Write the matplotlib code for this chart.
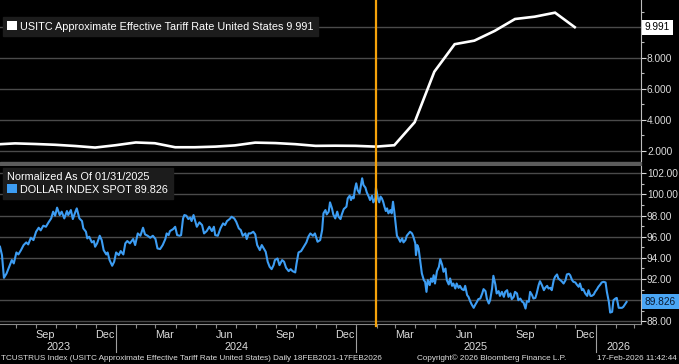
import numpy as np
import pandas as pd
import matplotlib
matplotlib.use('Agg')
import matplotlib.pyplot as plt
import matplotlib.dates as mdates
from matplotlib.patches import Patch, Rectangle

plt.rcParams['font.family'] = ['Liberation Sans', 'DejaVu Sans']

# USITC effective tariff rate, month-end readings
tariff_dates = ['2023-06-30', '2023-07-31', '2023-08-31', '2023-09-30', '2023-10-31', '2023-11-30', '2023-12-31',
                '2024-01-31', '2024-02-29', '2024-03-31', '2024-04-30', '2024-05-31', '2024-06-30',
                '2024-07-31', '2024-08-31', '2024-09-30', '2024-10-31', '2024-11-30', '2024-12-31',
                '2025-01-31', '2025-02-28', '2025-03-31', '2025-04-30', '2025-05-31', '2025-06-30',
                '2025-07-31', '2025-08-31', '2025-09-30', '2025-10-31', '2025-11-30']
tariff_vals = [2.40, 2.47, 2.43, 2.38, 2.30, 2.20, 2.35,
               2.53, 2.48, 2.22, 2.22, 2.26, 2.34,
               2.52, 2.49, 2.42, 2.31, 2.32, 2.31,
               2.26, 2.35, 3.84, 7.11, 8.89, 9.12,
               9.75, 10.52, 10.67, 10.93, 9.991]

# dollar index (normalized), days counted from 2023-07-01
dxy_start = '2023-07-01'
dxy_days = [7, 10, 13, 17, 22, 25, 28, 32, 35, 39, 43, 47, 50, 54, 58, 62, 66, 69, 73, 77,
            81, 85, 88, 91, 94, 98, 101, 105, 109, 111, 115, 118, 122, 124, 128, 132, 134, 138, 140, 143,
            147, 150, 152, 155, 159, 162, 165, 169, 171, 174, 178, 181, 184, 188, 191, 195, 198, 201, 205, 210,
            213, 217, 221, 225, 228, 232, 236, 240, 244, 247,
            251, 255, 259, 261, 264, 266, 271, 274, 277, 281, 283, 286, 288, 291, 294, 297, 299, 302, 305, 307,
            311, 315, 318, 322, 326, 330, 333, 335, 339, 343, 347, 350, 353, 357, 360, 364, 367, 371, 374, 377,
            381, 383, 386, 389, 393, 396, 399, 403, 406, 409, 412, 415, 418, 421, 424, 426, 430, 433, 437, 440,
            443, 447, 450, 453, 457, 459, 462, 466, 470, 474, 477, 480, 484, 487, 491,
            495, 498, 500, 503, 505, 508, 510, 513, 515, 518, 521, 523, 526, 528, 531, 535, 537, 540, 542, 544,
            546, 548, 550, 552, 555, 557, 559, 561, 564, 566, 569, 571, 574, 576, 579, 580, 583, 585, 587, 589,
            591, 593, 595, 597, 599, 602, 604, 606, 608, 610, 612, 615, 617, 620, 622, 625, 627, 630, 632, 635,
            637, 640, 641, 643, 645, 648, 650, 653, 655, 657, 659, 662, 664, 666, 668, 670, 673, 676, 678, 681,
            683, 686, 688, 691, 693, 696, 698, 701, 703, 706, 708, 711, 714, 716, 719, 721, 724, 726, 729, 731,
            734, 736,
            739, 742, 744, 747, 749, 752, 754, 757, 759, 762, 764, 767, 769, 772, 775, 777, 780, 782, 785, 787,
            790, 792, 795, 797, 800, 803, 805, 808, 810, 813, 815, 818, 820, 823, 825, 828, 830, 833, 836, 838,
            841, 843, 846, 848, 851, 853, 856, 858, 861, 863, 866, 869, 871, 874, 876, 879, 881, 884, 886, 889,
            891, 894, 896, 899, 902, 904, 907, 909, 912, 914, 917, 919, 922, 924, 927, 930, 932, 935, 937, 940,
            942, 945, 947, 950, 952, 955, 957, 962]
dxy_vals = [95.05, 94.26, 92.11, 92.52, 93.31, 93.79, 93.47, 94.51, 94.32, 94.73,
            95.21, 95.46, 95.27, 95.90, 95.68, 96.47, 96.85, 96.60, 97.04, 96.94,
            97.36, 97.73, 98.37, 97.99, 98.75, 98.05, 98.37, 97.73, 98.43, 98.05,
            98.52, 97.67, 98.37, 98.68, 97.73, 97.48, 96.79, 96.47, 95.84, 96.00,
            95.46, 95.59, 95.05, 95.37, 96.09, 95.68, 94.73, 94.32, 94.51, 93.79,
            93.25, 93.63, 94.51, 94.26, 94.64, 94.32, 95.37, 95.59, 95.37, 95.78,
            95.21, 96.31, 96.09, 96.85, 96.22, 96.09, 95.90, 96.09, 95.78, 94.89,
            94.83, 95.21, 95.78, 96.31, 96.15, 96.53, 96.72, 96.94, 96.15, 96.09,
            96.15, 97.73, 98.05, 97.99, 97.67, 97.80, 97.48, 98.05, 97.36, 96.94,
            97.36, 97.10, 96.31, 96.53, 96.94, 96.53, 96.94, 96.15, 96.09, 96.79,
            97.26, 97.10, 97.48, 97.67, 97.89, 97.73, 97.42, 96.79, 96.63, 96.09,
            96.31, 95.78, 96.31, 96.31, 96.47, 96.22, 95.21, 94.73, 95.21, 94.89,
            94.57, 93.63, 93.15, 92.93, 93.31, 93.79, 93.94, 93.31, 93.79, 93.63,
            93.06, 92.74, 92.93, 92.74, 92.62, 93.47, 94.51, 94.64, 95.05, 95.46,
            96.00, 96.31, 96.09, 96.31, 95.52,
            95.68, 96.63, 98.21, 98.52, 98.11, 98.37, 99.25, 98.68, 98.11, 97.73,
            98.37, 97.89, 97.67, 98.11, 98.62, 98.84, 99.63, 99.88, 99.47, 99.79,
            99.63, 100.52, 101.05, 100.42, 100.10, 100.83, 101.53, 100.89, 100.64, 100.20,
            99.79, 99.47, 99.88, 99.25, 99.63, 100.64, 99.63, 99.25, 99.79, 99.63,
            99.31, 98.84, 98.43, 98.68, 98.21, 98.52, 98.21, 99.31, 98.37, 97.26,
            96.09, 95.78, 95.52, 95.84, 95.46, 95.68, 96.09, 96.31, 96.47, 96.31,
            96.00, 95.37, 94.26, 95.21, 94.89, 93.47, 92.52, 91.89, 91.73, 90.78,
            91.89, 91.42, 92.05, 91.73, 92.36, 91.57, 92.74, 93.15, 93.88, 93.31,
            92.68, 92.99, 91.89, 91.48, 92.05, 91.35, 91.57, 91.10, 91.57, 91.16,
            91.35, 91.04, 90.94, 91.35, 90.47, 90.31, 89.84, 89.58, 89.27, 89.52,
            89.84, 90.09,
            90.15, 90.63, 91.04, 90.85, 90.15, 89.68, 89.99, 91.10, 92.30, 91.48,
            90.63, 90.85, 90.40, 90.78, 90.31, 90.78, 90.94, 90.31, 90.63, 90.09,
            90.31, 90.78, 90.63, 89.99, 90.15, 89.84, 89.77, 89.20, 89.90, 89.84,
            90.78, 90.47, 90.15, 90.21, 90.63, 91.42, 91.79, 91.42, 90.94, 91.16,
            91.35, 91.10, 91.16, 90.94, 91.89, 92.21, 92.43, 92.05, 91.89, 91.79,
            91.57, 91.89, 92.43, 92.49, 92.36, 91.89, 91.73, 91.67, 91.48, 91.26,
            91.57, 90.94, 91.04, 90.63, 90.40, 90.94, 90.40, 90.40, 90.53, 90.78,
            91.04, 91.26, 91.48, 91.67, 91.73, 91.67, 90.78, 89.84, 88.82, 88.89,
            89.99, 90.15, 90.21, 89.27, 89.27, 89.27, 89.36, 89.826]

marker_date = '2025-01-31'
x_range = ['2023-07-08', '2026-03-11']
tariff_label = 'USITC Approximate Effective Tariff Rate United States'
dxy_label = 'DOLLAR INDEX SPOT'

W, H = 679, 364
fg = '#dcdcdc'
grid_c = '#4a4a4a'
blue = '#3d9df3'
orange = '#f5a20a'
fs = 7.8
yfs = 7.3

def px_box(x0, y0, x1, y1):
    # pixel box -> figure fraction
    return [x0 / W, 1 - y1 / H, (x1 - x0) / W, (y1 - y0) / H]

fig = plt.figure(figsize=(W / 100, H / 100), dpi=100, facecolor='black')
ax1 = fig.add_axes(px_box(0, 0, 641, 161))
ax2 = fig.add_axes(px_box(0, 166, 641, 324), sharex=ax1)

t_dates = pd.to_datetime(tariff_dates)
d_dates = pd.Timestamp(dxy_start) + pd.to_timedelta(dxy_days, unit='D')

ax1.plot(t_dates, tariff_vals, color='white', lw=1.9, solid_joinstyle='miter')
ax2.plot(d_dates, dxy_vals, color=blue, lw=1.5)

for ax in (ax1, ax2):
    ax.set_facecolor('black')
    for s in ('left', 'top', 'bottom'):
        ax.spines[s].set_visible(False)
    ax.spines['right'].set_color('#bdbdbd')
    ax.yaxis.tick_right()
    ax.grid(axis='y', color=grid_c, lw=1.0)
    ax.set_axisbelow(True)
    ax.tick_params(axis='y', which='major', colors=fg, labelsize=yfs, length=3.5, width=0.8, pad=0.8)
    ax.tick_params(axis='y', which='minor', colors='#bdbdbd', length=2.5, width=0.8)

ax1.set_xlim(pd.Timestamp(x_range[0]), pd.Timestamp(x_range[1]))

# top panel
ax1.set_ylim(1.33, 11.75)
ax1.set_yticks([2, 4, 6, 8, 10])
ax1.set_yticklabels(['2.000', '4.000', '6.000', '8.000', ''])
ax1.set_yticks([3, 5, 7, 9, 11], minor=True)
ax1.tick_params(axis='x', which='both', bottom=False, labelbottom=False)

# bottom panel
ax2.set_ylim(87.74, 102.69)
ax2.set_yticks(range(88, 103, 2))
ax2.set_yticklabels(['88.00', '', '92.00', '94.00', '96.00', '98.00', '100.00', '102.00'])
ax2.set_yticks(range(89, 103, 2), minor=True)
ax2.spines['bottom'].set_visible(True)
ax2.spines['bottom'].set_color('#8a8a8a')
ax2.xaxis.set_major_locator(mdates.MonthLocator(bymonth=[3, 6, 9, 12], bymonthday=15))
ax2.xaxis.set_major_formatter(mdates.DateFormatter('%b'))
ax2.xaxis.set_minor_locator(mdates.MonthLocator())
ax2.tick_params(axis='x', which='major', length=0, colors=fg, labelsize=fs, pad=4)
ax2.tick_params(axis='x', which='minor', length=3, color='#8a8a8a', width=0.8)

# year labels and separators
xa = ax2.get_xaxis_transform()
x0, x1 = pd.Timestamp(x_range[0]), pd.Timestamp(x_range[1])
for yr in [2023, 2024, 2025, 2026]:
    a = max(pd.Timestamp(f'{yr}-01-01'), x0)
    b = min(pd.Timestamp(f'{yr + 1}-01-01'), x1)
    ax2.text(a + (b - a) / 2, -0.148, str(yr), transform=xa, ha='center', va='center',
             color=fg, fontsize=fs)
    if yr > 2023:
        ax2.plot([pd.Timestamp(f'{yr}-01-01')] * 2, [-0.02, -0.175], transform=xa,
                 color='#a0a0a0', lw=0.8, clip_on=False)

# separator between panels
fig.patches.append(Rectangle((0, 1 - 165 / H), 641 / W, 3 / H, transform=fig.transFigure,
                             color='#5c5c5c', zorder=-1))

# vertical marker
md = pd.Timestamp(marker_date)
ax1.axvline(md, color=orange, lw=1.6, ymin=-0.04, clip_on=False, zorder=5)
ax2.axvline(md, color=orange, lw=1.6, ymin=-0.01, clip_on=False, zorder=5)

# last value tags
ax1.text(1.006, tariff_vals[-1], f'{tariff_vals[-1]:.3f}', transform=ax1.get_yaxis_transform(),
         ha='left', va='center', color='black', fontsize=yfs, clip_on=False,
         bbox=dict(boxstyle='square,pad=0.25', fc='white', ec='none'))
ax2.text(1.006, dxy_vals[-1], f'{dxy_vals[-1]:.3f}', transform=ax2.get_yaxis_transform(),
         ha='left', va='center', color='#0a1a30', fontsize=yfs, clip_on=False,
         bbox=dict(boxstyle='square,pad=0.25', fc='#4aa6f5', ec='none'))

# legends
leg1 = ax1.legend(handles=[Patch(fc='white', ec='none', label=f'{tariff_label} {tariff_vals[-1]:.3f}')],
                  loc='upper left', bbox_to_anchor=(3 / 641, 1 - 17 / 161), borderaxespad=0,
                  frameon=True, fancybox=False, facecolor='#1c1c1c', edgecolor='#1c1c1c', framealpha=1,
                  labelcolor='white', fontsize=fs, handlelength=0.9, handleheight=0.9,
                  handletextpad=0.3, borderpad=0.4)
leg2 = ax2.legend(handles=[Patch(fc=blue, ec='none', label=f'{dxy_label} {dxy_vals[-1]:.3f}')],
                  title='Normalized As Of 01/31/2025', alignment='left',
                  loc='upper left', bbox_to_anchor=(3 / 641, 1 - 2 / 158), borderaxespad=0,
                  frameon=True, fancybox=False, facecolor='#1c1c1c', edgecolor='#1c1c1c', framealpha=1,
                  labelcolor='white', fontsize=fs, title_fontsize=fs, handlelength=0.9, handleheight=0.9,
                  handletextpad=0.3, borderpad=0.4, labelspacing=0.2)
leg2.get_title().set_color('white')

# footer
fy = 1 - 358 / H
ffs = 5.9
fig.text(1 / W, fy, 'TCUSTRUS Index (USITC Approximate Effective Tariff Rate United States) Daily 18FEB2021-17FEB2026',
         color=fg, fontsize=ffs, ha='left', va='center')
fig.text(492 / W, fy, 'Copyright\u00a9 2026 Bloomberg Finance L.P.', color=fg, fontsize=ffs, ha='center', va='center')
fig.text(677 / W, fy, '17-Feb-2026 11:42:44', color=fg, fontsize=ffs, ha='right', va='center')

fig.savefig('out.png', dpi=100, facecolor='black')
